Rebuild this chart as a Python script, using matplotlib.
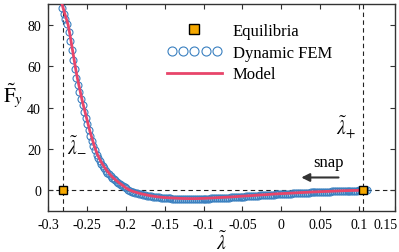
import matplotlib
matplotlib.use('Agg')
import matplotlib.pyplot as plt
import matplotlib.transforms as mtransforms
from matplotlib.legend_handler import HandlerLine2D

plt.rcParams['font.family'] = ['Liberation Serif', 'DejaVu Serif']
plt.rcParams['mathtext.fontset'] = 'stix'
plt.rcParams['axes.unicode_minus'] = False

# equilibria (lambda_-, lambda_+)
eq_x = [-0.281, 0.105]
eq_f = [0.0, 0.0]

# model curve
model_x = [-0.2825, -0.2815, -0.280, -0.278, -0.276, -0.274, -0.272, -0.270, -0.268, -0.266,
           -0.264, -0.262, -0.260, -0.258, -0.256, -0.254, -0.252, -0.250, -0.248, -0.246,
           -0.244, -0.242, -0.240, -0.236, -0.232, -0.228, -0.224, -0.220, -0.216, -0.212,
           -0.208, -0.204, -0.200, -0.195, -0.190, -0.180, -0.170, -0.160, -0.150, -0.140,
           -0.130, -0.120, -0.110, -0.100, -0.090, -0.080, -0.070, -0.060, -0.050, -0.040,
           -0.030, -0.020, -0.010, 0.000, 0.010, 0.020, 0.030, 0.040, 0.050, 0.060,
           0.070, 0.080, 0.090, 0.100, 0.105]
model_f = [91.0, 89.5, 87.5, 85.0, 82.5, 80.0, 76.0, 71.5, 67.0, 62.5,
           58.0, 54.0, 50.5, 47.0, 43.5, 40.5, 37.5, 34.5, 31.5, 28.5,
           26.0, 23.5, 21.0, 17.0, 14.0, 11.5, 9.4, 7.6, 6.0, 4.7,
           3.5, 2.4, 1.2, 0.1, -0.6, -1.7, -2.5, -3.1, -3.5, -3.7,
           -3.9, -4.0, -4.0, -3.9, -3.7, -3.5, -3.3, -3.1, -2.8, -2.6,
           -2.3, -2.1, -1.8, -1.6, -1.4, -1.2, -1.0, -0.8, -0.65, -0.5,
           -0.35, -0.2, -0.1, 0.0, 0.0]

# dynamic FEM samples
fem_x = [-0.2835, -0.2815, -0.2795, -0.2775, -0.2755, -0.2735, -0.2715, -0.2695, -0.2675, -0.2655,
         -0.2635, -0.2615, -0.2595, -0.2575, -0.2555, -0.2535, -0.2515, -0.2495, -0.2475, -0.2455,
         -0.2435, -0.2415, -0.2395, -0.2375, -0.2355, -0.2335, -0.2315, -0.2295, -0.2275, -0.2255,
         -0.2235, -0.2215, -0.2195, -0.2175, -0.2155, -0.2135, -0.2115, -0.2095, -0.2075, -0.2055,
         -0.2035, -0.2015, -0.1995,
         -0.1975, -0.1950, -0.1925, -0.1900, -0.1875, -0.1850, -0.1825, -0.1800, -0.1775, -0.1750,
         -0.1725, -0.1700, -0.1675, -0.1650, -0.1625, -0.1600, -0.1575, -0.1550, -0.1525, -0.1500,
         -0.1475, -0.1450, -0.1425, -0.1400, -0.1375, -0.1350, -0.1325, -0.1300, -0.1275, -0.1250,
         -0.1225, -0.1200, -0.1175, -0.1150, -0.1125, -0.1100, -0.1075, -0.1050, -0.1025, -0.1000,
         -0.0975, -0.0950, -0.0925, -0.0900, -0.0875, -0.0850, -0.0825, -0.0800, -0.0775, -0.0750,
         -0.0725, -0.0700, -0.0675, -0.0650, -0.0625, -0.0600, -0.0575, -0.0550, -0.0525, -0.0500,
         -0.0475, -0.0450, -0.0425, -0.0400, -0.0375, -0.0350, -0.0325, -0.0300, -0.0275, -0.0250,
         -0.0225, -0.0200, -0.0175, -0.0150, -0.0125, -0.0100, -0.0075, -0.0050, -0.0025, 0.0000,
         0.0025, 0.0050, 0.0075, 0.0100, 0.0125, 0.0150, 0.0175, 0.0200, 0.0225, 0.0250,
         0.0275, 0.0300, 0.0325, 0.0350, 0.0375, 0.0400, 0.0425, 0.0450, 0.0475, 0.0500,
         0.0525, 0.0550, 0.0575, 0.0600, 0.0625, 0.0650, 0.0675, 0.0700, 0.0725, 0.0750,
         0.0775, 0.0800, 0.0825, 0.0850, 0.0875, 0.0900, 0.0925, 0.0950, 0.0975, 0.1000,
         0.1025, 0.1050, 0.1075, 0.1100]
fem_f = [91.5, 88.0, 85.4, 82.9, 80.4, 76.6, 72.2, 67.7, 63.2, 58.7,
         54.5, 51.0, 47.5, 44.0, 41.0, 38.0, 35.0, 32.0, 29.0, 26.4,
         23.9, 21.4, 19.3, 17.3, 15.5, 14.0, 12.7, 11.6, 10.6, 9.5,
         8.6, 7.7, 6.9, 6.1, 5.4, 4.8, 4.2, 3.6, 3.1, 2.5,
         2.0, 1.5, 1.0,
         0.3, -0.3, -0.7, -1.0, -1.3, -1.5, -1.8, -2.0, -2.2, -2.4,
         -2.55, -2.7, -2.85, -3.0, -3.15, -3.3, -3.4, -3.5, -3.6, -3.7,
         -3.8, -3.85, -3.95, -4.0, -4.05, -4.1, -4.1, -4.15, -4.2, -4.2,
         -4.25, -4.25, -4.25, -4.25, -4.25, -4.25, -4.2, -4.2, -4.15, -4.15,
         -4.1, -4.05, -4.0, -3.95, -3.9, -3.85, -3.8, -3.75, -3.7, -3.65,
         -3.6, -3.55, -3.5, -3.45, -3.4, -3.35, -3.25, -3.2, -3.1, -3.05,
         -3.0, -2.95, -2.85, -2.8, -2.75, -2.7, -2.6, -2.55, -2.5, -2.45,
         -2.35, -2.3, -2.25, -2.2, -2.1, -2.05, -2.0, -1.95, -1.85, -1.8,
         -1.75, -1.7, -1.65, -1.6, -1.55, -1.5, -1.45, -1.4, -1.35, -1.3,
         -1.25, -1.2, -1.15, -1.1, -1.05, -1.0, -0.95, -0.9, -0.85, -0.8,
         -0.8, -0.75, -0.7, -0.65, -0.6, -0.55, -0.5, -0.5, -0.45, -0.4,
         -0.35, -0.35, -0.3, -0.25, -0.2, -0.2, -0.15, -0.1, -0.1, -0.05,
         0.0, 0.0, 0.05, 0.05]

x_ticks = [-0.3, -0.25, -0.2, -0.15, -0.1, -0.05, 0, 0.05, 0.1, 0.146]
x_tick_labels = ['-0.3', '-0.25', '-0.2', '-0.15', '-0.1', '-0.05', '0', '0.05', '0.1', '0.15']
y_ticks = [0, 20, 40, 60, 80]

BLUE = '#3a80c0'
RED = '#e8456a'
ORANGE = '#f5a800'

fig = plt.figure(figsize=(3.99, 2.53), dpi=100)
ax = fig.add_axes([0.120, 0.162, 0.870, 0.818])

ax.axhline(0, color='#222222', lw=0.8, ls=(0, (4, 3)), zorder=1)
for xv in eq_x:
    ax.axvline(xv, color='#222222', lw=0.8, ls=(0, (4, 3)), zorder=1)

fem_line, = ax.plot(fem_x, fem_f, 'o', ms=5, mfc='none', mec=BLUE, mew=0.8,
                    label='Dynamic FEM', zorder=2)
model_line, = ax.plot(model_x, model_f, '-', color=RED, lw=2.0, label='Model', zorder=3)
eq_line, = ax.plot(eq_x, eq_f, 's', ms=5.5, mfc=ORANGE, mec='black', mew=1.0, ls='none',
                   label='Equilibria', zorder=4)

ax.set_xlim(-0.3, 0.146)
ax.set_ylim(-10, 90)
ax.set_xticks(x_ticks)
ax.set_xticklabels(x_tick_labels)
ax.set_yticks(y_ticks)
ax.tick_params(direction='in', top=True, right=True, labelsize=10, length=3.5,
               width=0.8, color='#333333', pad=5)
for s in ax.spines.values():
    s.set_color('#333333')
    s.set_linewidth(1.0)

# last x label sits just inside the right edge, as in the original
last = ax.get_xticklabels()[-1]
last.set_ha('right')
last.set_transform(last.get_transform() + mtransforms.ScaledTranslation(3 / 100, 0, fig.dpi_scale_trans))

ax.set_xlabel(r'$\tilde{\lambda}$', fontsize=14, labelpad=0)
ax.set_ylabel(r'$\tilde{\mathrm{F}}_y$', fontsize=15, rotation=0, labelpad=12)
ax.yaxis.set_label_coords(-0.1, 0.49)

ax.text(-0.2625, 22, r'$\tilde{\lambda}_{-}$', fontsize=14, ha='center', va='center')
ax.text(0.083, 31, r'$\tilde{\lambda}_{+}$', fontsize=14, ha='center', va='center')

ax.annotate('', xy=(0.022, 6.2), xytext=(0.077, 6.2),
            arrowprops=dict(arrowstyle='-|>', color='#333333', lw=1.5, mutation_scale=12))
ax.text(0.060, 13.5, 'snap', fontsize=12, ha='center', va='center')

leg = ax.legend([eq_line, fem_line, model_line], ['Equilibria', 'Dynamic FEM', 'Model'],
                handler_map={fem_line: HandlerLine2D(numpoints=5),
                             eq_line: HandlerLine2D(numpoints=1)},
                loc='upper left', bbox_to_anchor=(0.343, 0.91), frameon=False,
                fontsize=12, handlelength=3.3, handletextpad=0.65, labelspacing=0.35,
                borderpad=0, borderaxespad=0, markerscale=1.3)

plt.savefig('out.png', dpi=100)
